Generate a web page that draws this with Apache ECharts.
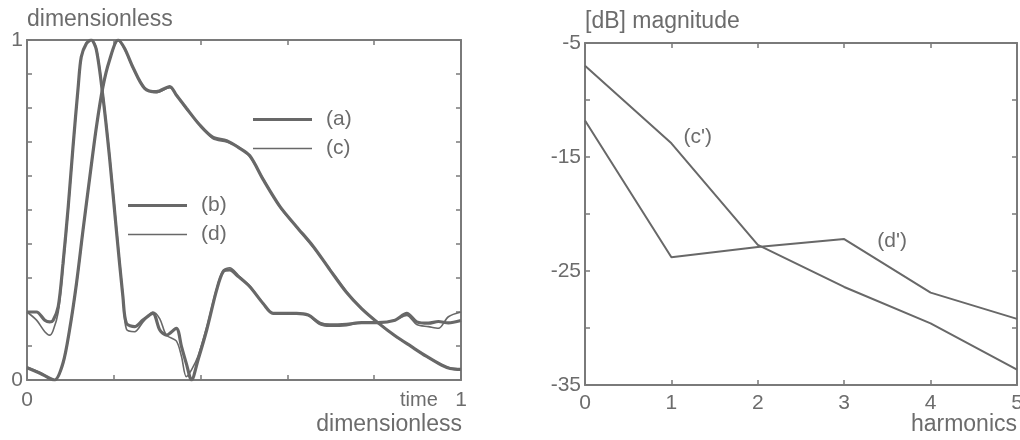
<!DOCTYPE html>
<html>
<head>
<meta charset="utf-8">
<script src="https://cdn.jsdelivr.net/npm/echarts@6/dist/echarts.min.js"></script>
<style>
  html, body { margin: 0; padding: 0; background: #fff; }
  #chart { width: 1020px; height: 440px; }
</style>
</head>
<body>
<div id="chart"></div>
<script>
// left panel: time (dimensionless) vs amplitude
const tBroad = [0, 0.03, 0.052, 0.064, 0.083, 0.098, 0.114, 0.129, 0.145, 0.16, 0.175, 0.19, 0.21, 0.225, 0.244,
  0.271, 0.298, 0.329, 0.344, 0.367, 0.398, 0.428, 0.46, 0.486, 0.513, 0.544, 0.583, 0.621, 0.66, 0.698,
  0.736, 0.771, 0.809, 0.848, 0.886, 0.92, 0.955, 0.975, 1]
const broadA = [0.036, 0.02, 0.005, 0, 0.05, 0.147, 0.284, 0.44, 0.6, 0.745, 0.863, 0.94, 1.0, 0.975, 0.92,
  0.858, 0.848, 0.863, 0.838, 0.80, 0.75, 0.714, 0.704, 0.685, 0.66, 0.59, 0.51, 0.451, 0.392, 0.324,
  0.258, 0.21, 0.168, 0.13, 0.098, 0.07, 0.044, 0.034, 0.031]
const broadC = [0.038, 0.022, 0.006, 0, 0.048, 0.145, 0.28, 0.437, 0.598, 0.743, 0.86, 0.94, 0.998, 0.973, 0.918,
  0.86, 0.845, 0.86, 0.84, 0.797, 0.752, 0.71, 0.7, 0.687, 0.657, 0.592, 0.508, 0.45, 0.39, 0.326,
  0.26, 0.209, 0.169, 0.129, 0.099, 0.069, 0.045, 0.035, 0.032]

const tNarrow = [0, 0.022, 0.041, 0.052, 0.06, 0.072, 0.083, 0.095, 0.106, 0.118, 0.125, 0.137, 0.148, 0.16, 0.175,
  0.19, 0.206, 0.221, 0.229, 0.248, 0.267, 0.29, 0.306, 0.321, 0.344, 0.356, 0.367, 0.379, 0.394, 0.414,
  0.437, 0.452, 0.467, 0.487, 0.513, 0.544, 0.567, 0.598, 0.621, 0.648, 0.675, 0.698, 0.736, 0.771, 0.809,
  0.848, 0.875, 0.898, 0.925, 0.948, 0.971, 1]
const narrowB = [0.20, 0.20, 0.176, 0.171, 0.175, 0.216, 0.343, 0.51, 0.686, 0.863, 0.95, 0.99, 1.0, 0.97, 0.833,
  0.657, 0.44, 0.245, 0.167, 0.157, 0.176, 0.196, 0.147, 0.132, 0.152, 0.098, 0.049, 0, 0.059, 0.147,
  0.265, 0.319, 0.324, 0.304, 0.275, 0.225, 0.196, 0.196, 0.196, 0.191, 0.167, 0.162, 0.164, 0.169, 0.169,
  0.176, 0.196, 0.171, 0.167, 0.172, 0.168, 0.175]
const narrowD = [0.20, 0.176, 0.142, 0.132, 0.145, 0.20, 0.33, 0.50, 0.68, 0.86, 0.95, 0.99, 1.0, 0.975, 0.84,
  0.665, 0.45, 0.25, 0.150, 0.142, 0.170, 0.200, 0.180, 0.132, 0.115, 0.069, 0.01, 0.03, 0.07, 0.155,
  0.27, 0.322, 0.33, 0.308, 0.277, 0.226, 0.197, 0.197, 0.196, 0.19, 0.163, 0.158, 0.16, 0.169, 0.169,
  0.176, 0.19, 0.163, 0.157, 0.152, 0.186, 0.2]

// right panel: magnitude [dB] per harmonic
const harmonics = [0, 1, 2, 3, 4, 5]
const magC = [-7.0, -13.8, -22.7, -26.4, -29.6, -33.65]
const magD = [-11.8, -23.8, -22.9, -22.2, -26.9, -29.2]

const lineGray = '#686868'
const textGray = '#6c6c6c'
const frameGray = '#7a7a7a'
const font = 'Liberation Sans, Arial, sans-serif'

const pairs = (xs, ys) => xs.map((x, i) => [x, ys[i]])

function frameAxis(extra) {
    return Object.assign({
        type: 'value',
        axisLine: { show: true, onZero: false, lineStyle: { color: frameGray, width: 2 } },
        axisTick: { show: true, inside: true, length: 5, lineStyle: { color: frameGray, width: 1.5 } },
        axisLabel: { show: false },
        splitLine: { show: false }
    }, extra)
}

const labelStyle = { show: true, color: textGray, fontSize: 21, fontFamily: font }
const zeroOne = v => (v === 0 || Math.abs(v - 1) < 1e-9) ? String(Math.round(v)) : ''

// legend icons: flat bars, thick and thin
const thickIcon = 'path://M0,0 L60,0 L60,3.2 L0,3.2 Z'
const thinIcon = 'path://M0,0 L60,0 L60,1.6 L0,1.6 Z'

function timeSeries(name, xs, ys, width) {
    return {
        name: name, type: 'line', xAxisIndex: 0, yAxisIndex: 0, symbol: 'none', smooth: 0.3,
        lineStyle: { color: lineGray, width: width }, itemStyle: { color: lineGray },
        data: pairs(xs, ys)
    }
}

function spectrumSeries(name, ys, labelAt, offset) {
    return {
        name: name, type: 'line', xAxisIndex: 2, yAxisIndex: 2,
        symbol: 'circle', symbolSize: 0.01, showSymbol: true,
        lineStyle: { color: lineGray, width: 2 }, itemStyle: { color: lineGray },
        label: { show: false },
        data: harmonics.map((h, i) => i === labelAt
            ? { value: [h, ys[i]], label: { show: true, formatter: name, position: 'right', offset: offset, color: textGray, fontSize: 21, fontFamily: font } }
            : [h, ys[i]])
    }
}

const myChart = echarts.init(document.getElementById('chart'))
const option = {
    backgroundColor: '#fff',
    animation: false,
    grid: [
        { left: 27, right: 559, top: 40, bottom: 60, outerBoundsMode: 'none' },
        { left: 585, right: 3, top: 43, bottom: 55, outerBoundsMode: 'none' }
    ],
    xAxis: [
        frameAxis({
            gridIndex: 0, min: 0, max: 1, interval: 0.2, position: 'bottom',
            axisLabel: Object.assign({}, labelStyle, { margin: 10, formatter: zeroOne })
        }),
        frameAxis({ gridIndex: 0, min: 0, max: 1, interval: 0.2, position: 'top' }),
        frameAxis({
            gridIndex: 1, min: 0, max: 5, interval: 1, position: 'bottom',
            axisLabel: Object.assign({}, labelStyle, { margin: 8 })
        }),
        frameAxis({ gridIndex: 1, min: 0, max: 5, interval: 1, position: 'top' })
    ],
    yAxis: [
        frameAxis({
            gridIndex: 0, min: 0, max: 1, interval: 0.1, position: 'left',
            axisLabel: Object.assign({}, labelStyle, { margin: 4, formatter: zeroOne }),
            name: 'dimensionless', nameLocation: 'end', nameGap: 9,
            nameTextStyle: { color: textGray, fontSize: 23, fontFamily: font, align: 'left' }
        }),
        frameAxis({ gridIndex: 0, min: 0, max: 1, interval: 0.1, position: 'right' }),
        frameAxis({
            gridIndex: 1, min: -35, max: -5, interval: 5, position: 'left',
            axisLabel: Object.assign({}, labelStyle, {
                margin: 4,
                formatter: v => ((v + 5) % 10 === 0) ? String(v) : ''
            }),
            name: '[dB] magnitude', nameLocation: 'end', nameGap: 10,
            nameTextStyle: { color: textGray, fontSize: 23, fontFamily: font, align: 'left' }
        }),
        frameAxis({ gridIndex: 1, min: -35, max: -5, interval: 5, position: 'right' })
    ],
    legend: [
        {
            id: 'legAC', left: 248, top: 104, orient: 'vertical', itemWidth: 59, itemHeight: 14, itemGap: 8,
            selectedMode: false,
            textStyle: { color: textGray, fontSize: 21, fontFamily: font, padding: [0, 0, 0, 9] },
            data: [
                { name: '(a)', icon: thickIcon, itemStyle: { color: lineGray } },
                { name: '(c)', icon: thinIcon, itemStyle: { color: lineGray } }
            ]
        },
        {
            id: 'legBD', left: 123, top: 190, orient: 'vertical', itemWidth: 59, itemHeight: 14, itemGap: 8,
            selectedMode: false,
            textStyle: { color: textGray, fontSize: 21, fontFamily: font, padding: [0, 0, 0, 9] },
            data: [
                { name: '(b)', icon: thickIcon, itemStyle: { color: lineGray } },
                { name: '(d)', icon: thinIcon, itemStyle: { color: lineGray } }
            ]
        }
    ],
    graphic: [
        { type: 'text', left: 400, top: 390, style: { text: 'time', fill: textGray, fontSize: 20, fontFamily: font } },
        { type: 'text', right: 558, top: 413, style: { text: 'dimensionless', fill: textGray, fontSize: 23, fontFamily: font } },
        { type: 'text', right: 3, top: 413, style: { text: 'harmonics', fill: textGray, fontSize: 23, fontFamily: font } }
    ],
    series: [
        timeSeries('(a)', tBroad, broadA, 3.2),
        timeSeries('(c)', tBroad, broadC, 1.6),
        timeSeries('(b)', tNarrow, narrowB, 3.2),
        timeSeries('(d)', tNarrow, narrowD, 1.6),
        spectrumSeries("(c')", magC, 1, [7, -6]),
        spectrumSeries("(d')", magD, 3, [28, 2])
    ]
}
myChart.setOption(option)
</script>
</body>
</html>
